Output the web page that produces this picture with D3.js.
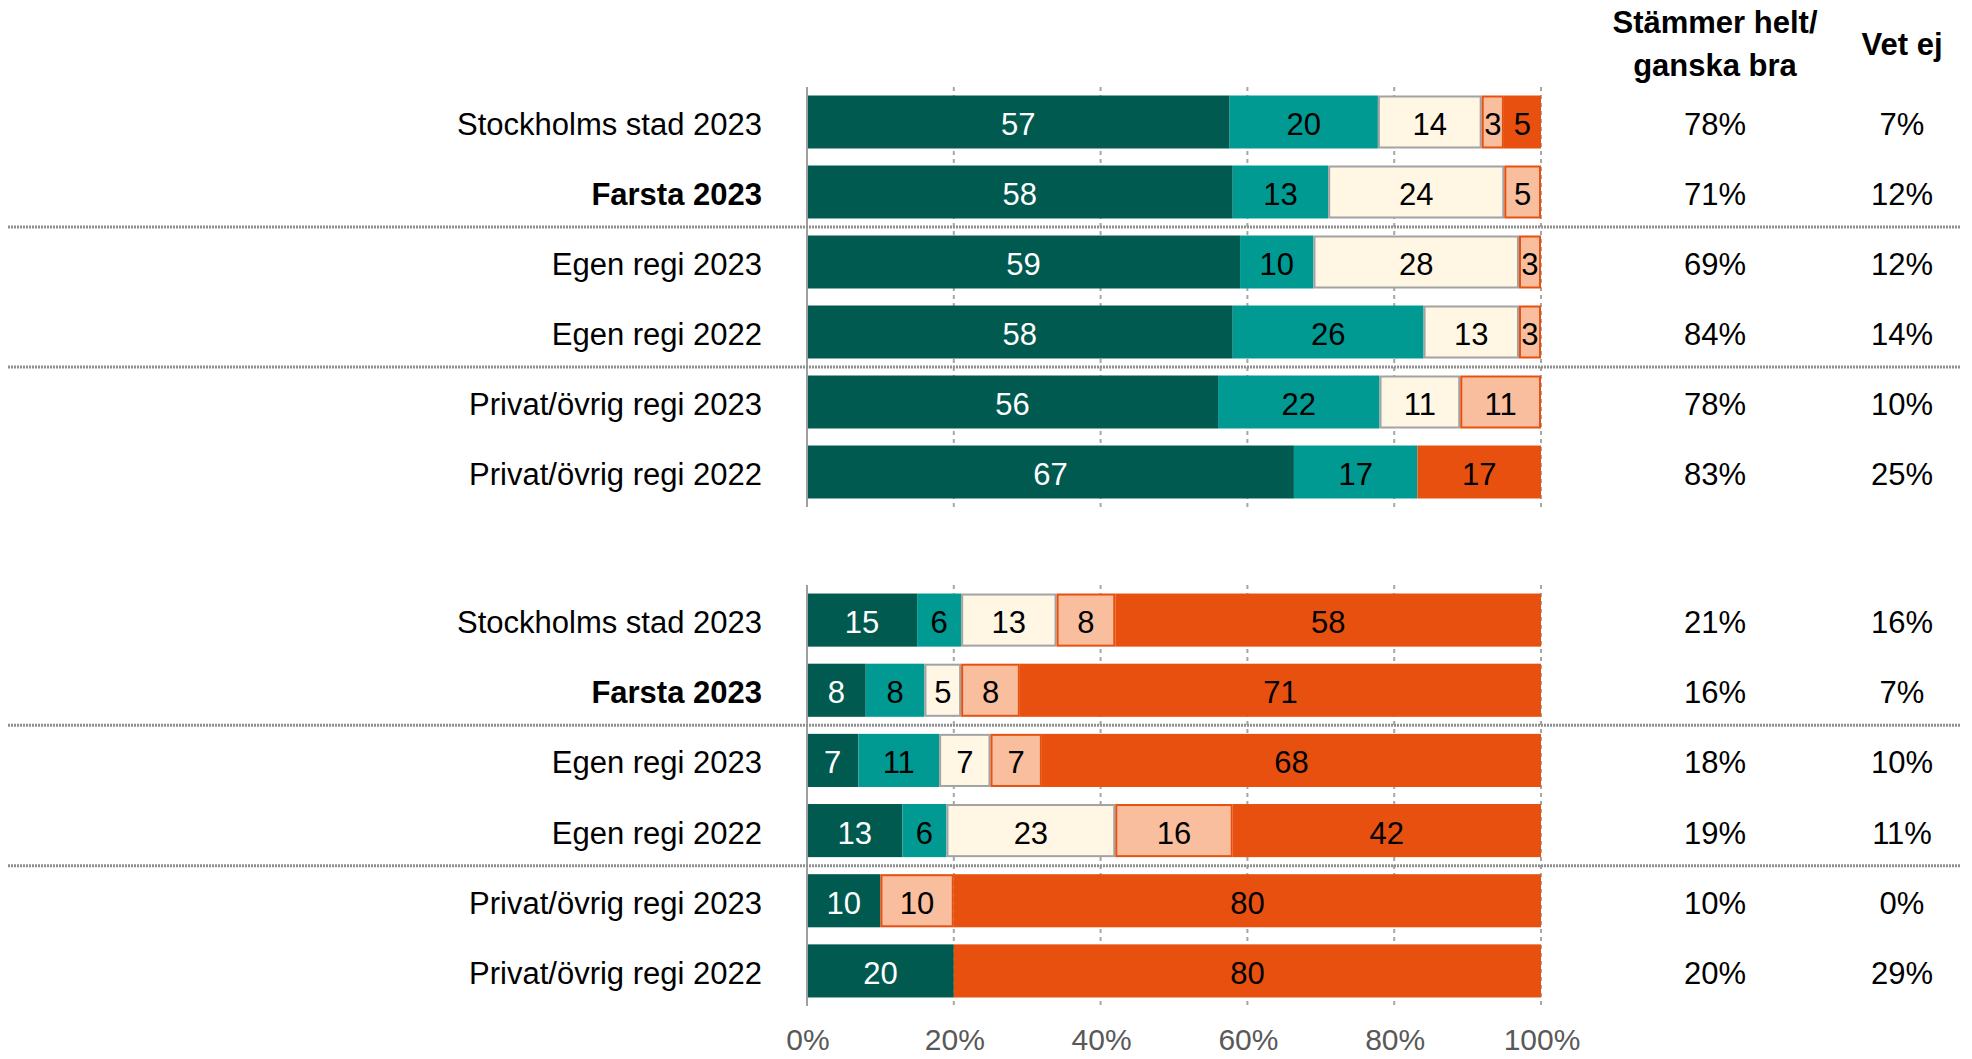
<!DOCTYPE html>
<html>
<head>
<meta charset="utf-8">
<script src="https://cdn.jsdelivr.net/npm/d3@7/dist/d3.min.js"></script>
<style>
  html, body { margin: 0; padding: 0; background: #fff; }
  svg { display: block; font-family: "Liberation Sans", Arial, sans-serif; }
</style>
</head>
<body>
<svg id="chart" width="1972" height="1059"></svg>
<script>
// ---------- data ----------
const categories = ["Stockholms stad 2023", "Farsta 2023", "Egen regi 2023", "Egen regi 2022", "Privat/övrig regi 2023", "Privat/övrig regi 2022"];
const boldCategory = "Farsta 2023";
const seriesKeys = ["s1", "s2", "s3", "s4", "s5"];

const top_s1 = [57, 58, 59, 58, 56, 67];
const top_s2 = [20, 13, 10, 26, 22, 17];
const top_s3 = [14, 24, 28, 13, 11, 0];
const top_s4 = [3, 5, 3, 3, 11, 0];
const top_s5 = [5, 0, 0, 0, 0, 17];

const bot_s1 = [15, 8, 7, 13, 10, 20];
const bot_s2 = [6, 8, 11, 6, 0, 0];
const bot_s3 = [13, 5, 7, 23, 0, 0];
const bot_s4 = [8, 8, 7, 16, 10, 0];
const bot_s5 = [58, 71, 68, 42, 80, 80];

const topAgree = ["78%", "71%", "69%", "84%", "78%", "83%"];
const topDontKnow = ["7%", "12%", "12%", "14%", "10%", "25%"];
const botAgree = ["21%", "16%", "18%", "19%", "10%", "20%"];
const botDontKnow = ["16%", "7%", "10%", "11%", "0%", "29%"];

const headerAgree = ["Stämmer helt/", "ganska bra"];
const headerDontKnow = "Vet ej";
const xTicks = [0, 20, 40, 60, 80, 100];

// ---------- styles ----------
const fills = { s1: "#005A4F", s2: "#009A92", s3: "#FFF6E3", s4: "#F8BE9D", s5: "#E8500F" };
const strokes = { s1: null, s2: null, s3: "#A3A3A3", s4: "#E8500F", s5: null };
const labelColor = { s1: "#ffffff", s2: "#000", s3: "#000", s4: "#000", s5: "#000" };
const FS = 31;
const BASE = 13;

const svg = d3.select("#chart");
const x = d3.scaleLinear().domain([0, 1]).range([807, 1541]);
const xPct = d3.scaleLinear().domain([0, 100]).range([807, 1541]);
const colAgreeX = 1715, colDkX = 1902;

function buildRows(arrs) {
  return categories.map((c, i) => {
    const o = { cat: c };
    seriesKeys.forEach((k, j) => o[k] = arrs[j][i]);
    return o;
  });
}

function panel(rows, y0, y1, agree, dk) {
  const y = d3.scaleBand().domain(categories).range([y0, y1]).paddingInner(0.243).paddingOuter(0.1215);
  const g = svg.append("g");

  // gridlines
  g.selectAll("line.grid").data(xTicks.filter(t => t > 0)).join("line")
    .attr("x1", d => xPct(d)).attr("x2", d => xPct(d))
    .attr("y1", y0).attr("y2", y1)
    .attr("stroke", "#A6A6A6").attr("stroke-width", 2).attr("stroke-dasharray", "4,4");

  const stack = d3.stack().keys(seriesKeys).offset(d3.stackOffsetExpand);
  const layers = stack(rows);

  const lg = g.selectAll("g.layer").data(layers).join("g");
  lg.each(function (layer) {
    const k = layer.key;
    const sel = d3.select(this);
    layer.forEach(seg => {
      const val = seg.data[k];
      if (!val) return;
      const xa = x(seg[0]), xb = x(seg[1]);
      const yy = y(seg.data.cat), h = y.bandwidth();
      if (strokes[k]) {
        sel.append("rect").attr("x", xa + 1).attr("y", yy + 1)
          .attr("width", Math.max(0, xb - xa - 2)).attr("height", h - 2)
          .attr("fill", fills[k]).attr("stroke", strokes[k]).attr("stroke-width", 2);
      } else {
        sel.append("rect").attr("x", xa).attr("y", yy)
          .attr("width", xb - xa).attr("height", h)
          .attr("fill", fills[k]);
      }
    });
  });
  // value labels
  lg.each(function (layer) {
    const k = layer.key;
    const sel = d3.select(this);
    layer.forEach(seg => {
      const val = seg.data[k];
      if (!val) return;
      sel.append("text")
        .attr("x", (x(seg[0]) + x(seg[1])) / 2)
        .attr("y", y(seg.data.cat) + y.bandwidth() / 2 + BASE)
        .attr("text-anchor", "middle")
        .attr("font-size", FS)
        .attr("fill", labelColor[k])
        .text(val);
    });
  });

  // axis line
  g.append("line").attr("x1", x(0)).attr("x2", x(0)).attr("y1", y0).attr("y2", y1)
    .attr("stroke", "#A0A0A0").attr("stroke-width", 2);

  // category labels
  g.selectAll("text.cat").data(categories).join("text")
    .attr("x", 762).attr("y", d => y(d) + y.bandwidth() / 2 + BASE)
    .attr("text-anchor", "end").attr("font-size", FS)
    .attr("font-weight", d => d === boldCategory ? "bold" : "normal")
    .attr("fill", "#000").text(d => d);

  // right columns
  g.selectAll("text.ag").data(agree).join("text")
    .attr("x", colAgreeX).attr("y", (d, i) => y(categories[i]) + y.bandwidth() / 2 + BASE)
    .attr("text-anchor", "middle").attr("font-size", FS).attr("fill", "#000").text(d => d);
  g.selectAll("text.dk").data(dk).join("text")
    .attr("x", colDkX).attr("y", (d, i) => y(categories[i]) + y.bandwidth() / 2 + BASE)
    .attr("text-anchor", "middle").attr("font-size", FS).attr("fill", "#000").text(d => d);

  // separators (after row 2 and row 4)
  const step = y.step();
  [1, 3].forEach(i => {
    const sy = y(categories[i]) + y.bandwidth() + (step - y.bandwidth()) / 2;
    svg.append("line").attr("x1", 8).attr("x2", 1961).attr("y1", sy).attr("y2", sy)
      .attr("stroke", "#8F8F8F").attr("stroke-width", 3).attr("stroke-dasharray", "2,1");
  });
}

panel(buildRows([top_s1, top_s2, top_s3, top_s4, top_s5]), 87, 507, topAgree, topDontKnow);
panel(buildRows([bot_s1, bot_s2, bot_s3, bot_s4, bot_s5]), 585, 1006, botAgree, botDontKnow);

// x tick labels
svg.selectAll("text.tick").data(xTicks).join("text")
  .attr("x", d => xPct(d) + 1).attr("y", 1050)
  .attr("text-anchor", "middle").attr("font-size", 30).attr("fill", "#595959")
  .text(d => d + "%");

// headers
svg.append("text").attr("x", colAgreeX).attr("y", 33).attr("text-anchor", "middle")
  .attr("font-size", FS).attr("font-weight", "bold").text(headerAgree[0]);
svg.append("text").attr("x", colAgreeX).attr("y", 76).attr("text-anchor", "middle")
  .attr("font-size", FS).attr("font-weight", "bold").text(headerAgree[1]);
svg.append("text").attr("x", colDkX).attr("y", 55).attr("text-anchor", "middle")
  .attr("font-size", FS).attr("font-weight", "bold").text(headerDontKnow);
</script>
</body>
</html>
